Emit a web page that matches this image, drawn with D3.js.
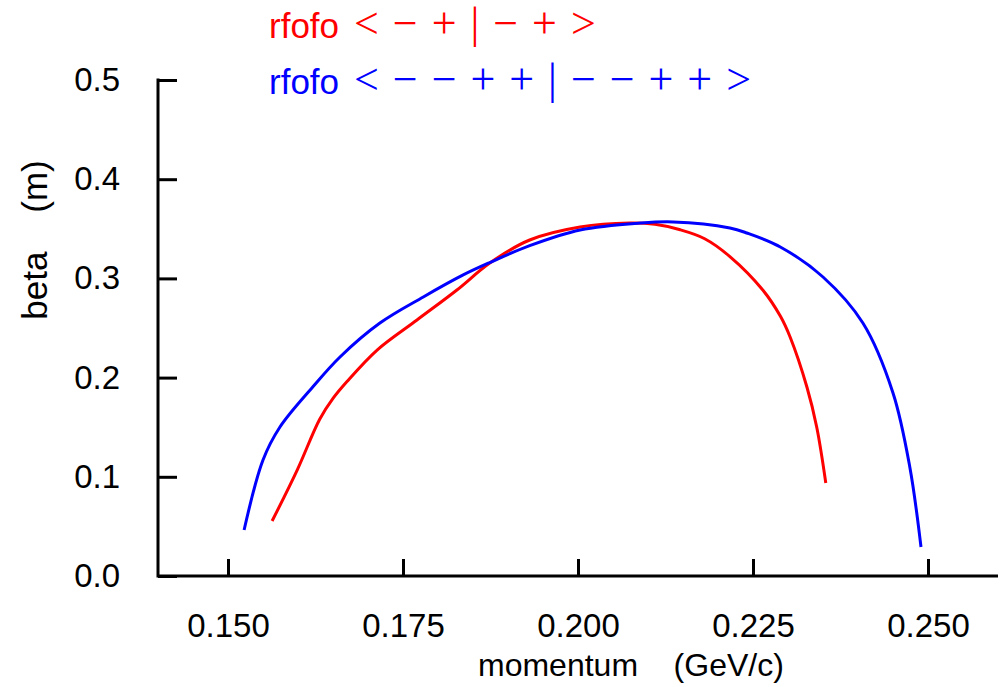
<!DOCTYPE html>
<html>
<head>
<meta charset="utf-8">
<script src="https://cdn.jsdelivr.net/npm/d3@7"></script>
<style>
  body { margin: 0; background: #fff; }
  text { font-family: "Liberation Sans", Arial, sans-serif; }
</style>
</head>
<body>
<div id="chart"></div>
<script>
// momentum (GeV/c) vs beta (m)
const redMomentum = [0.1563, 0.1599, 0.1631, 0.1650, 0.1670, 0.1713, 0.1770, 0.1827, 0.1874, 0.1931, 0.2003, 0.2074, 0.2110, 0.2146, 0.2181, 0.2217, 0.2264, 0.2289, 0.2303, 0.2327, 0.2341, 0.2354];
const redBeta     = [0.0554, 0.1070, 0.1580, 0.1790, 0.1960, 0.2278, 0.2581, 0.2883, 0.3155, 0.3387, 0.3518, 0.3558, 0.3545, 0.3490, 0.3400, 0.3220, 0.2883, 0.2620, 0.2409, 0.1905, 0.1502, 0.0938];

const blueMomentum = [0.1523, 0.1550, 0.1574, 0.1621, 0.1660, 0.1717, 0.1779, 0.1836, 0.1874, 0.1931, 0.2003, 0.2089, 0.2136, 0.2217, 0.2241, 0.2289, 0.2350, 0.2407, 0.2450, 0.2474, 0.2490];
const blueBeta     = [0.0464, 0.1170, 0.1500, 0.1905, 0.2208, 0.2550, 0.2813, 0.3035, 0.3160, 0.3330, 0.3488, 0.3558, 0.3569, 0.3508, 0.3458, 0.3317, 0.3014, 0.2550, 0.1845, 0.1099, 0.0292];

const xTicks = [0.150, 0.175, 0.200, 0.225, 0.250];
const yTicks = [0.0, 0.1, 0.2, 0.3, 0.4, 0.5];

const seriesNames = ['rfofo', 'rfofo'];
const seriesSymbols = ['< \u2212 + | \u2212 + >', '< \u2212 \u2212 + + | \u2212 \u2212 + + >'];
const seriesColors = ['#ff0000', '#0000ff'];

const W = 1005, H = 687;
const margin = {t:80, r:7, b:111, l:158};

const svg = d3.select('#chart')
	.append('svg')
	.attr('width', W)
	.attr('height', H);

const x = d3.scaleLinear()
	.domain([0.14, 0.26])
	.range([margin.l, W - margin.r]);
const y = d3.scaleLinear()
	.domain([0, 0.5])
	.range([H - margin.b, margin.t]);

// axes: only left and bottom lines, ticks point inward
const axisStyle = function(g){
	g.select('.domain').remove();
	g.selectAll('.tick line').attr('stroke', '#000').attr('stroke-width', 3);
	g.selectAll('.tick text').attr('fill', '#000').style('font-size', '33px');
};

svg.append('g')
	.attr('transform', `translate(0, ${y(0)})`)
	.call(d3.axisBottom(x).tickValues(xTicks).tickFormat(d3.format('.3f')).tickSizeInner(-17).tickPadding(38))
	.call(axisStyle);

svg.append('g')
	.attr('transform', `translate(${x(0.14)}, 0)`)
	.call(d3.axisLeft(y).tickValues(yTicks).tickFormat(d3.format('.1f')).tickSizeInner(-19).tickPadding(39))
	.call(axisStyle)
	.selectAll('.tick text').attr('x', -38);

svg.append('path')
	.attr('d', `M${x(0.14)},${y(0.5) - 1.5}V${y(0)}H${x(0.26)}`)
	.attr('fill', 'none')
	.attr('stroke', '#000')
	.attr('stroke-width', 3);

// axis titles
svg.append('text')
	.attr('x', 478)
	.attr('y', 676)
	.style('font-size', '32px')
	.style('white-space', 'pre')
	.text('momentum    (GeV/c)');

svg.append('text')
	.attr('transform', 'translate(47, 240) rotate(-90)')
	.attr('text-anchor', 'middle')
	.style('font-size', '35px')
	.style('white-space', 'pre')
	.text('beta    (m)');

// curves
const line = d3.line()
	.x(function(d){ return x(d[0]); })
	.y(function(d){ return y(d[1]); })
	.curve(d3.curveCatmullRom.alpha(0.5));

const series = [
	d3.zip(redMomentum, redBeta),
	d3.zip(blueMomentum, blueBeta)
];

svg.selectAll('.curve')
	.data(series)
	.enter()
	.append('path')
	.attr('class', 'curve')
	.attr('d', line)
	.attr('fill', 'none')
	.attr('stroke', function(d, i){ return seriesColors[i]; })
	.attr('stroke-width', 3)
	.attr('stroke-linejoin', 'round');

// legend
const legend = svg.selectAll('.legend')
	.data(seriesNames)
	.enter()
	.append('text')
	.attr('class', 'legend')
	.attr('y', function(d, i){ return 38 + i * 56; })
	.attr('fill', function(d, i){ return seriesColors[i]; })
	.style('white-space', 'pre');

legend.append('tspan')
	.attr('x', 269)
	.style('font-size', '35px')
	.text(function(d){ return d; });

legend.append('tspan')
	.attr('x', 354)
	.style('font-family', '"Liberation Serif", serif')
	.style('font-size', '44px')
	.attr('word-spacing', 3)
	.text(function(d, i){ return seriesSymbols[i]; });
</script>
</body>
</html>
